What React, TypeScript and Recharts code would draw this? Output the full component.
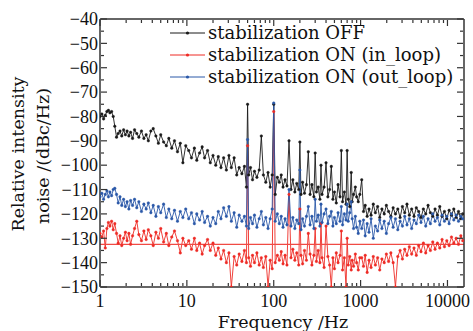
import React from 'react';
import { Line, LineChart, ReferenceLine, XAxis, YAxis } from 'recharts';

// frequency grid (Hz)
const freqHz = [
  1, 1.05, 1.1, 1.15, 1.2, 1.25, 1.3, 1.36, 1.42, 1.48,
  1.55, 1.62, 1.7, 1.78, 1.87, 1.96, 2.05, 2.15, 2.25, 2.37,
  2.5, 2.65, 2.8, 3, 3.2, 3.4, 3.6, 3.85, 4.1, 4.4,
  4.7, 5, 5.4, 5.8, 6.2, 6.7, 7.2, 7.8, 8.4, 9,
  9.7,
  10.5, 11.3, 12.2, 13, 14, 15, 16, 17.3, 18.6, 20,
  21.5, 23, 24.7, 26.5, 28.5, 30.5, 32.5, 35, 37.5, 40,
  43, 46, 48.5, 50, 51.5, 54, 57, 60, 64, 68,
  72, 76, 81, 86, 91, 96, 100, 104, 110,
  116, 122, 128, 135, 142, 150, 158, 166, 175, 184,
  194, 200, 206, 215, 226, 238, 250, 262, 275, 290,
  300, 310, 325, 340, 350, 360, 380, 400, 420, 440,
  460, 480, 500, 525, 550, 580, 600, 620, 650, 680,
  700, 720, 750, 780, 800, 830, 870, 900, 940, 980,
  1030, 1080, 1130, 1190, 1250, 1320, 1400, 1480, 1570, 1660,
  1760, 1870, 1980, 2100, 2230, 2370, 2520, 2680, 2850, 3030,
  3220, 3420, 3640, 3870, 4120, 4380, 4660, 4960, 5280, 5620,
  5980, 6360, 6770, 7200, 7660, 8150, 8670, 9230, 9820, 10450,
  11120, 11830, 12590, 13400, 14250, 15000,
];

// stabilization OFF (dBc/Hz)
const offDb = [
  -80, -79, -81, -79.5, -78, -77.5, -78.5, -78, -80, -84,
  -88.5, -87, -86, -88, -85.5, -87.5, -86, -88, -86.5, -89,
  -85.5, -87, -88.5, -86, -89, -87.5, -90, -86, -85, -88,
  -91, -87.5, -90.5, -92, -89, -93, -90, -94.5, -91, -99,
  -92,
  -94, -97, -93, -98, -95, -92.5, -97, -94, -99, -96,
  -100, -96.5, -101, -97, -102, -96, -101, -97, -104, -101,
  -103.5, -100.5, -109, -75, -104, -101, -106, -102.5, -105, -102,
  -88, -104, -107, -103, -109, -104, -75, -112, -105,
  -107, -104, -109, -106, -108.5, -90, -110, -106, -111, -107.5,
  -110, -90.5, -112, -107, -111.5, -108, -94.5, -112, -108, -113,
  -95, -111, -109, -114, -100, -112, -109, -99, -113, -110,
  -100.5, -114, -111, -115.5, -108, -113, -94, -115, -111, -116,
  -94, -114, -117, -103, -115, -112, -109, -113, -115, -112,
  -106, -119, -116.5, -121, -118, -120.5, -116, -119.5, -117, -121.5,
  -118, -120, -116.5, -119, -121, -117.5, -120, -118, -121.5, -117,
  -119.5, -116, -120.5, -118, -121, -117.5, -119, -121.5, -118, -120,
  -116.5, -119.5, -121, -118, -120.5, -117, -121, -119, -122, -118.5,
  -120.5, -118, -121.5, -119, -122, -120,
];

// stabilization ON, in-loop
const inLoopDb = [
  -128, -129.5, -127, -134, -126, -123.5, -125, -123, -126.5, -124,
  -128, -132, -129, -133, -130, -127.5, -131, -128, -132.5, -129,
  -126, -123, -128.5, -131, -127, -130.5, -126.5, -129, -133, -127.5,
  -130, -126, -131.5, -128, -133, -129.5, -127, -131, -136, -130,
  -133,
  -131, -134.5, -130, -135, -132, -136.5, -133, -130.5, -135, -132,
  -137, -134, -138.5, -135, -140, -136, -150, -137.5, -141, -136.5,
  -139.5, -135, -140, -92, -138, -141.5, -137, -140, -136, -141,
  -138, -142, -137.5, -150, -139, -142.5, -78, -140, -137,
  -139, -135.5, -140.5, -137, -141, -112, -138, -134.5, -139, -136,
  -141, -118, -137, -140.5, -135, -139, -128, -136.5, -141, -137,
  -126, -139.5, -135, -140, -124, -138, -142, -125, -137.5, -141,
  -150, -138, -142.5, -136, -140, -137, -127, -143, -138, -150,
  -130, -141, -137.5, -143, -139, -141.5, -136.5, -140, -143, -138,
  -138, -141.5, -137, -144, -139, -142, -137.5, -141, -138, -143,
  -138.5, -140, -136.5, -139.5, -136, -140, -150, -137.5, -135, -138.5,
  -134.5, -137, -133.5, -136.5, -134, -137, -133, -135.5, -132, -136,
  -133, -135, -131.5, -134.5, -132, -134, -130.5, -133.5, -131, -133,
  -129.5, -132, -130, -132.5, -129, -131,
];

// stabilization ON, out-of-loop
const outLoopDb = [
  -113, -111.5, -114, -112, -110.5, -113, -111, -112.5, -110, -109.5,
  -112, -115.5, -113, -116.5, -114, -117, -115, -118, -114.5, -116.5,
  -114, -117.5, -115, -119, -116, -118, -115.5, -119.5, -116.5, -121,
  -117, -119.5, -116, -121.5, -118, -122, -118.5, -123, -119, -121.5,
  -118,
  -122, -119.5, -124, -120, -122.5, -119, -123.5, -121, -125, -121.5,
  -124, -119, -122, -117.5, -121, -117, -123, -119.5, -125.5, -120.5,
  -123, -121, -125, -89.5, -126, -121.5, -124, -120.5, -125.5, -122,
  -119, -124.5, -121.5, -126, -122, -118, -74.5, -123, -120,
  -124, -121, -125.5, -122, -124.5, -110, -125, -121.5, -126, -122.5,
  -124, -102, -126.5, -122, -125, -121, -117, -124.5, -121, -126,
  -114, -123, -120.5, -125, -116, -123.5, -120, -118, -124, -121,
  -119, -125, -121.5, -124, -119.5, -123, -117, -124.5, -120, -122.5,
  -116, -123, -119.5, -115, -122, -126, -121, -125.5, -128, -123,
  -126, -122.5, -129, -124, -127.5, -122, -130, -125, -127, -122.5,
  -126, -123, -128, -124, -121.5, -125.5, -122, -126.5, -123, -125,
  -121, -124.5, -122, -126, -122.5, -124, -120.5, -123.5, -121, -125,
  -122, -124, -120, -123, -121.5, -124.5, -120.5, -123, -121, -124,
  -120, -122.5, -120.5, -123, -121, -122,
];

const floorDb = -132.5;

const xTicks = [
  1, 2, 3, 4, 5, 6, 7, 8, 9,
  10, 20, 30, 40, 50, 60, 70, 80, 90,
  100, 200, 300, 400, 500, 600, 700, 800, 900,
  1000, 2000, 3000, 4000, 5000, 6000, 7000, 8000, 9000,
  10000,
];
const xMajor = [1, 10, 100, 1000, 10000];
const yTicks = [
  -150, -145, -140, -135, -130, -125, -120, -115, -110, -105, -100,
  -95, -90, -85, -80, -75, -70, -65, -60, -55, -50, -45, -40,
];

const seriesNames = ['stabilization OFF', 'stabilization ON (in_loop)', 'stabilization ON (out_loop)'];
const seriesColors = ['#1a1a1a', '#ee2b25', '#2a58a8'];

const data = freqHz.map((f, i) => ({ f, off: offDb[i], inLoop: inLoopDb[i], outLoop: outLoopDb[i] }));

const AXIS = '#333';
const TICK_FONT = '"Liberation Serif", serif';
const TITLE_FONT = '"DejaVu Serif", serif';

const fmt = (v: number) => (v < 0 ? `\u2212${-v}` : String(v));

const BottomTick = (props: any) => {
  const { x, y, payload } = props;
  const major = xMajor.includes(payload.value);
  return (
    <g>
      <line x1={x} x2={x} y1={y - 1} y2={y - 1 - (major ? 6 : 3)} stroke={AXIS} strokeWidth={1.2} />
      {major && (
        <text x={x} y={y + 20} textAnchor="middle" fontFamily={TICK_FONT} fontSize={18} fill="#111">
          {payload.value}
        </text>
      )}
    </g>
  );
};

const TopTick = (props: any) => {
  const { x, y, payload } = props;
  const major = xMajor.includes(payload.value);
  return <line x1={x} x2={x} y1={y + 1} y2={y + 1 + (major ? 6 : 3)} stroke={AXIS} strokeWidth={1.2} />;
};

const LeftTick = (props: any) => {
  const { x, y, payload } = props;
  const major = payload.value % 10 === 0;
  return (
    <g>
      <line x1={x + 1} x2={x + 1 + (major ? 6 : 3)} y1={y} y2={y} stroke={AXIS} strokeWidth={1.2} />
      {major && (
        <text x={x - 2} y={y} dy="0.35em" textAnchor="end" fontFamily={TICK_FONT} fontSize={18} fill="#111">
          {fmt(payload.value)}
        </text>
      )}
    </g>
  );
};

const RightTick = (props: any) => {
  const { x, y, payload } = props;
  const major = payload.value % 10 === 0;
  return <line x1={x - 1} x2={x - 1 - (major ? 6 : 3)} y1={y} y2={y} stroke={AXIS} strokeWidth={1.2} />;
};

const Overlay = () => (
  <svg width={473} height={331} style={{ position: 'absolute', left: 0, top: 0, pointerEvents: 'none' }}>
    <g fontFamily={TITLE_FONT} fill="#111">
      <text x={283} y={328} textAnchor="middle" fontSize={17.5}>
        Frequency /Hz
      </text>
      <text transform="translate(24,154) rotate(-90)" textAnchor="middle" fontSize={17.5}>
        Relative intensity
      </text>
      <text transform="translate(49,156) rotate(-90)" textAnchor="middle" fontSize={17.5}>
        noise /(dBc/Hz)
      </text>
    </g>
    {seriesNames.map((name, i) => {
      const y = 33 + i * 22;
      return (
        <g key={name}>
          <line x1={170} x2={205} y1={y} y2={y} stroke={seriesColors[i]} strokeWidth={1} />
          <circle cx={187.5} cy={y} r={1.6} fill={seriesColors[i]} />
          <text x={208} y={y} dy="0.35em" fontFamily={TITLE_FONT} fontSize={18} fill="#111">
            {name}
          </text>
        </g>
      );
    })}
  </svg>
);

export default function App() {
  const keys = ['off', 'inLoop', 'outLoop'];
  const axisLine = { stroke: AXIS, strokeWidth: 1.5 };
  return (
    <div style={{ position: 'absolute', left: 0, top: 0, width: 473, height: 331, background: '#fff' }}>
      <LineChart width={473} height={331} data={data} margin={{ top: 18, right: 8, bottom: 43, left: 99 }}>
        <XAxis
          xAxisId="b"
          dataKey="f"
          type="number"
          scale="log"
          domain={[1, 15500]}
          allowDataOverflow
          ticks={xTicks}
          interval={0}
          height={1}
          tickSize={0}
          tickMargin={0}
          tick={BottomTick}
          axisLine={axisLine}
          tickLine={false}
        />
        <XAxis
          xAxisId="t"
          orientation="top"
          dataKey="f"
          type="number"
          scale="log"
          domain={[1, 15500]}
          allowDataOverflow
          ticks={xTicks}
          interval={0}
          height={1}
          tickSize={0}
          tickMargin={0}
          tick={TopTick}
          axisLine={axisLine}
          tickLine={false}
        />
        <YAxis
          yAxisId="l"
          type="number"
          domain={[-150, -40]}
          allowDataOverflow
          ticks={yTicks}
          interval={0}
          width={1}
          tickSize={0}
          tickMargin={0}
          tick={LeftTick}
          axisLine={axisLine}
          tickLine={false}
        />
        <YAxis
          yAxisId="r"
          orientation="right"
          type="number"
          domain={[-150, -40]}
          allowDataOverflow
          ticks={yTicks}
          interval={0}
          width={1}
          tickSize={0}
          tickMargin={0}
          tick={RightTick}
          axisLine={axisLine}
          tickLine={false}
        />
        {keys.map((k, i) => (
          <Line
            key={k}
            xAxisId="b"
            yAxisId="l"
            dataKey={k}
            type="linear"
            stroke={seriesColors[i]}
            strokeWidth={0.9}
            dot={{ r: 1.3, fill: seriesColors[i], stroke: seriesColors[i], strokeWidth: 0.4 }}
            activeDot={false}
            isAnimationActive={false}
          />
        ))}
        <ReferenceLine xAxisId="b" yAxisId="l" y={floorDb} stroke="#f04a44" strokeWidth={1.3} />
      </LineChart>
      <Overlay />
    </div>
  );
}
